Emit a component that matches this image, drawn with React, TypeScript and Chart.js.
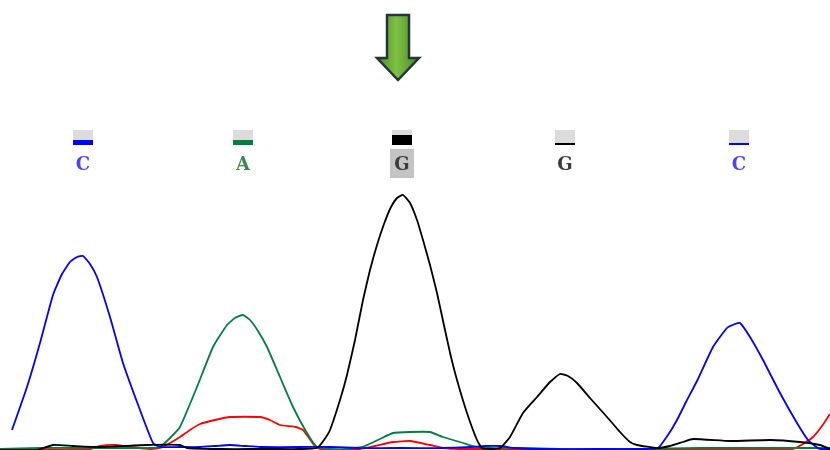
import React, { useEffect, useRef } from "react";
import { Chart, registerables } from "chart.js";

Chart.register(...registerables);

// Base calls
const baseLetters = ["C", "A", "G", "G", "C"];
const basePositions = [83, 243, 402, 565, 739];
const baseQuality = [20, 20, 40, 8, 8]; // out of 60
const selectedBase = 2;

// Trace data (scan position, signal)
const blueX = [12,27,40,53,62,70,77,83,90,97,110,123,140,153,160,180,200,215,230,245,260,300,330,360,400,440,470,485,500,515,540,600,640,658,668,677,686,697,713,727,735,740,750,763,780,797,808,815,820,830];
const blueY = [20,63,107,155,176,188,193,194,186,173,133,87,40,7,3,3,3,4,5,4,3,3,3,2,2,2,3,4,4,2,1,1,1,2,15,30,48,69,103,122,126,127,113,90,57,27,10,4,1,1];

const greenX = [0,40,80,120,150,160,170,180,197,213,227,235,243,250,258,267,280,293,307,317,330,350,365,380,393,410,430,443,463,477,490,520,560,600,640,700,740,780,830];
const greenY = [1,2,2,2,2,3,12,23,63,103,125,132,135,130,119,103,73,43,17,3,1,1,4,11,17,18,18,13,7,3,2,2,1,1,1,2,2,2,2];

const redX = [0,90,100,115,130,150,160,170,180,190,200,215,230,260,270,280,296,303,309,315,320,340,360,375,393,410,430,443,460,500,600,700,780,793,803,813,822,830];
const redY = [0,1,4,5,3,1,2,7,13,20,26,30,33,33,30,25,23,20,12,4,1,0,1,4,8,9,5,2,1,1,0,0,0,1,6,13,24,36];

const blackX = [0,37,53,73,100,147,180,187,220,250,273,300,317,324,330,340,347,355,363,370,377,384,391,397,403,410,417,423,430,437,445,451,457,467,477,482,490,500,510,523,537,550,560,568,577,590,607,620,630,637,657,670,683,693,730,770,800,820,830];
const blackY = [0,0,5,4,3,5,5,2,1,1,1,1,2,10,20,50,75,110,150,180,205,226,243,252,255,247,230,210,185,157,120,93,70,37,10,2,1,2,13,37,53,68,76,74,67,52,33,18,8,5,2,4,8,11,9,10,8,5,1];

const baseColors: Record<string, string> = { C: "#0000ff", A: "#008040", G: "#000000", T: "#ff0000" };
const letterColors: Record<string, string> = { C: "#4646ff", A: "#3a8a50", G: "#3a3a3a", T: "#ff0000" };

const zip = (xs: number[], ys: number[]) => xs.map((x, i) => ({ x, y: ys[i] }));

const annotationPlugin = {
  id: "baseCalls",
  afterDraw(chart: any) {
    const ctx = chart.ctx as CanvasRenderingContext2D;
    const xs = chart.scales.x;
    ctx.save();
    // arrow above selected base
    const ax = xs.getPixelForValue(basePositions[selectedBase]) - 4;
    ctx.beginPath();
    ctx.moveTo(ax - 11, 15);
    ctx.lineTo(ax + 11, 15);
    ctx.lineTo(ax + 11, 58);
    ctx.lineTo(ax + 21, 58);
    ctx.lineTo(ax, 80);
    ctx.lineTo(ax - 21, 58);
    ctx.lineTo(ax - 11, 58);
    ctx.closePath();
    const grad = ctx.createLinearGradient(ax - 20, 0, ax + 20, 0);
    grad.addColorStop(0, "#4a8a28");
    grad.addColorStop(0.45, "#80c244");
    grad.addColorStop(1, "#4a8a28");
    ctx.fillStyle = grad;
    ctx.fill();
    ctx.lineWidth = 2.5;
    ctx.strokeStyle = "#22363a";
    ctx.lineJoin = "miter";
    ctx.stroke();

    baseLetters.forEach((b, i) => {
      const cx = xs.getPixelForValue(basePositions[i]);
      // quality bar
      const top = 130, h = 15, w = 20;
      ctx.fillStyle = "#dcdcdc";
      ctx.fillRect(cx - w / 2, top, w, h);
      const qh = (baseQuality[i] / 60) * h;
      ctx.fillStyle = baseColors[b];
      ctx.fillRect(cx - w / 2, top + h - qh, w, qh);
      // highlight
      if (i === selectedBase) {
        ctx.fillStyle = "#c4c4c4";
        ctx.fillRect(cx - 12, 149, 24, 29);
      }
      ctx.fillStyle = letterColors[b];
      ctx.font = "bold 18px 'DejaVu Serif'";
      ctx.textAlign = "center";
      ctx.textBaseline = "middle";
      ctx.fillText(b, cx, 165);
    });
    ctx.restore();
  },
};

export default function App() {
  const ref = useRef<HTMLCanvasElement>(null);
  useEffect(() => {
    document.body.style.margin = "0";
    const ds = (label: string, xs: number[], ys: number[], color: string, order: number) => ({
      label,
      data: zip(xs, ys),
      borderColor: color,
      borderWidth: 1.8,
      pointRadius: 0,
      fill: false,
      tension: 0.15,
      order,
    });
    const chart = new Chart(ref.current!, {
      type: "line",
      data: {
        datasets: [
          ds("T", redX, redY, "#ff0000", 4),
          ds("A", greenX, greenY, "#008040", 3),
          ds("C", blueX, blueY, "#0000ff", 2),
          ds("G", blackX, blackY, "#000000", 1),
        ],
      },
      options: {
        animation: false,
        responsive: false,
        devicePixelRatio: 1,
        layout: { padding: 0 },
        plugins: { legend: { display: false }, tooltip: { enabled: false } },
        scales: {
          x: { type: "linear", min: 0, max: 830, display: false },
          y: { type: "linear", min: 0, max: 450, display: false },
        },
      },
      plugins: [annotationPlugin],
    });
    return () => chart.destroy();
  }, []);
  return <canvas ref={ref} width={830} height={450} style={{ display: "block" }} />;
}
